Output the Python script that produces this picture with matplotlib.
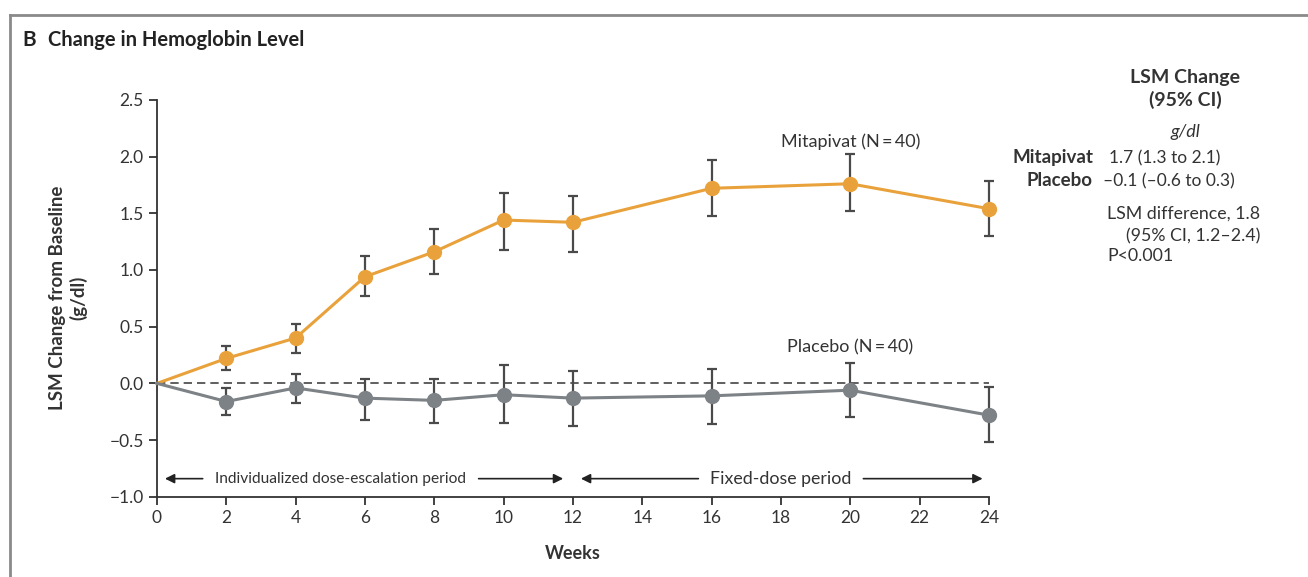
import numpy as np
import matplotlib.pyplot as plt
from matplotlib.lines import Line2D

plt.rcParams['font.family'] = ['Lato', 'DejaVu Sans']

# Data
weeks = [0, 2, 4, 6, 8, 10, 12, 16, 20, 24]
mita = [0.0, 0.22, 0.40, 0.94, 1.16, 1.44, 1.42, 1.72, 1.76, 1.54]
mita_lo = [0.0, 0.12, 0.27, 0.77, 0.96, 1.18, 1.16, 1.48, 1.52, 1.30]
mita_hi = [0.0, 0.33, 0.52, 1.12, 1.36, 1.68, 1.65, 1.97, 2.02, 1.78]
plac = [0.0, -0.16, -0.04, -0.13, -0.15, -0.10, -0.13, -0.11, -0.06, -0.28]
plac_lo = [0.0, -0.28, -0.17, -0.32, -0.35, -0.35, -0.38, -0.36, -0.30, -0.52]
plac_hi = [0.0, -0.04, 0.08, 0.04, 0.04, 0.16, 0.11, 0.13, 0.18, -0.03]
xticks = list(range(0, 25, 2))
yticks = [-1.0, -0.5, 0.0, 0.5, 1.0, 1.5, 2.0, 2.5]

orange = '#E9A23B'
grey = '#7D8287'
ebar = '#4a4a4a'

fig = plt.figure(figsize=(13.08, 5.77), dpi=100)
ax = fig.add_axes([0.120, 0.139, 0.636, 0.688])

# reference line at zero
ax.axhline(0, color='#444444', lw=1.2, ls=(0, (5, 3)), zorder=1)

# error bars (skip week 0)
for x, m, lo, hi in zip(weeks[1:], mita[1:], mita_lo[1:], mita_hi[1:]):
    ax.errorbar(x, m, yerr=[[m - lo], [hi - m]], fmt='none', ecolor=ebar,
                elinewidth=1.6, capsize=3.5, capthick=1.6, zorder=2, clip_on=False)
for x, m, lo, hi in zip(weeks[1:], plac[1:], plac_lo[1:], plac_hi[1:]):
    ax.errorbar(x, m, yerr=[[m - lo], [hi - m]], fmt='none', ecolor=ebar,
                elinewidth=1.6, capsize=3.5, capthick=1.6, zorder=2, clip_on=False)

ax.plot(weeks, mita, color=orange, lw=2.2, zorder=3, clip_on=False)
ax.plot(weeks[1:], mita[1:], 'o', color=orange, ms=10, zorder=4, clip_on=False)
ax.plot(weeks, plac, color=grey, lw=2.2, zorder=3, clip_on=False)
ax.plot(weeks[1:], plac[1:], 'o', color=grey, ms=10, zorder=4, clip_on=False)

ax.set_xlim(0, 24)
ax.set_ylim(-1.0, 2.5)
ax.set_xticks(xticks)
ax.set_yticks(yticks)
ax.set_yticklabels(['\u22121.0', '\u22120.5', '0.0', '0.5', '1.0', '1.5', '2.0', '2.5'])
for s in ['top', 'right']:
    ax.spines[s].set_visible(False)
for s in ['left', 'bottom']:
    ax.spines[s].set_color('#333333')
    ax.spines[s].set_linewidth(1.3)
ax.tick_params(axis='both', labelsize=12.5, color='#333333', width=1.3, length=6,
               labelcolor='#333333')
ax.set_xlabel('Weeks', fontsize=13, fontweight='bold', color='#333333', labelpad=14)
ax.set_ylabel('LSM Change from Baseline\n(g/dl)', fontsize=13.5, fontweight='bold',
              color='#333333', labelpad=16)

# series labels
ax.text(20.0, 2.13, 'Mitapivat (N\u2009=\u200940)', ha='center', va='center', fontsize=13, color='#333333')
ax.text(20.0, 0.32, 'Placebo (N\u2009=\u200940)', ha='center', va='center', fontsize=13, color='#333333')

# period arrows
ya = -0.84
arr = dict(arrowstyle='-|>', color='#222222', lw=1.2, mutation_scale=14)
ax.annotate('', xy=(0.15, ya), xytext=(1.4, ya), arrowprops=arr)
ax.annotate('', xy=(11.8, ya), xytext=(9.2, ya), arrowprops=arr)
ax.text(5.3, ya, 'Individualized dose-escalation period', ha='center', va='center',
        fontsize=11.2, color='#333333')
ax.annotate('', xy=(12.15, ya), xytext=(15.7, ya), arrowprops=arr)
ax.annotate('', xy=(23.9, ya), xytext=(20.3, ya), arrowprops=arr)
ax.text(18.0, ya, 'Fixed-dose period', ha='center', va='center', fontsize=12.8, color='#333333')

# panel title
fig.text(22 / 1308, 1 - 40 / 577, 'B', fontsize=15, fontweight='bold', va='center', color='#222222')
fig.text(48 / 1308, 1 - 40 / 577, 'Change in Hemoglobin Level', fontsize=14.5, fontweight='bold',
         va='center', color='#222222')

# right-side summary
def fx(px):
    return px / 1308

def fy(py):
    return 1 - py / 577

tc = '#333333'
fig.text(fx(1185), fy(77), 'LSM Change', ha='center', va='center', fontsize=14, fontweight='bold', color=tc)
fig.text(fx(1185), fy(100), '(95% CI)', ha='center', va='center', fontsize=14, fontweight='bold', color=tc)
fig.text(fx(1185), fy(132), 'g/dl', ha='center', va='center', fontsize=13, style='italic', color=tc)
fig.text(fx(1093), fy(158), 'Mitapivat', ha='right', va='center', fontsize=13.5, fontweight='bold', color=tc)
fig.text(fx(1093), fy(181), 'Placebo', ha='right', va='center', fontsize=13.5, fontweight='bold', color=tc)
fig.text(fx(1109), fy(158), '1.7 (1.3 to 2.1)', ha='left', va='center', fontsize=12.5, color=tc)
fig.text(fx(1103), fy(181), '\u20130.1 (\u20130.6 to 0.3)', ha='left', va='center', fontsize=12.5, color=tc)
fig.text(fx(1107), fy(214), 'LSM difference, 1.8', ha='left', va='center', fontsize=12.8, color=tc)
fig.text(fx(1126), fy(236), '(95% CI, 1.2\u20132.4)', ha='left', va='center', fontsize=12.8, color=tc)
fig.text(fx(1107), fy(256), 'P<0.001', ha='left', va='center', fontsize=12.8, color=tc)

# panel frame lines
fig.add_artist(Line2D([fx(10), 1.0], [fy(15), fy(15)], color='#8a8a8a', lw=2))
fig.add_artist(Line2D([fx(10), fx(10)], [fy(15), 0.0], color='#8a8a8a', lw=2))

fig.savefig('out.png', dpi=100)
